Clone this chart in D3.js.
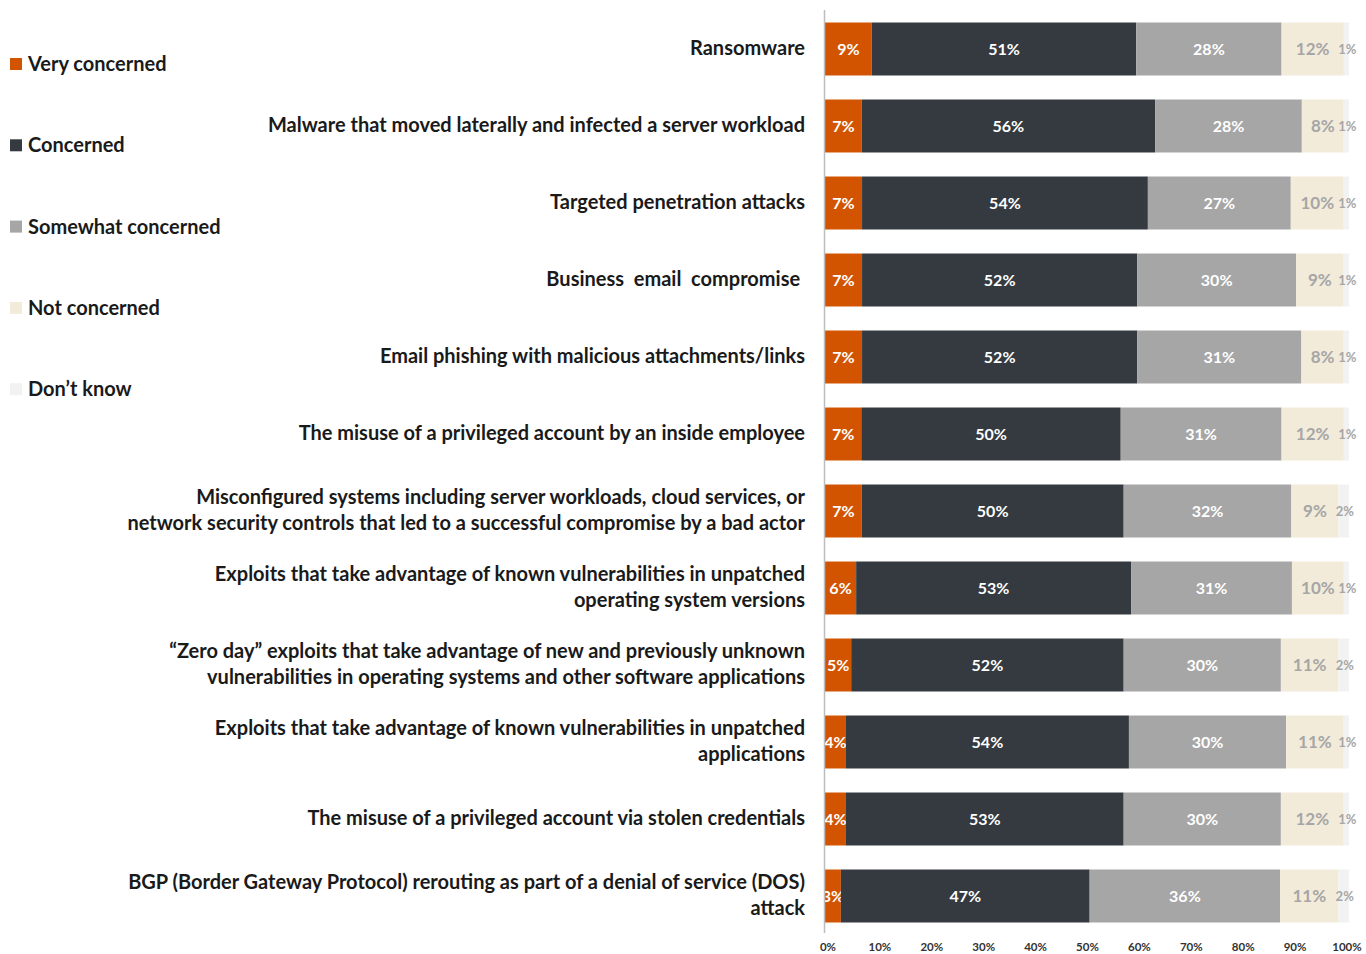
<!DOCTYPE html>
<html><head><meta charset="utf-8">
<script src="https://cdn.jsdelivr.net/npm/d3@7"></script>
<style>
body{margin:0;background:#fff;}
svg text{font-family:"Lato","Open Sans",sans-serif;}
</style></head>
<body><svg id="c" width="1366" height="954"></svg>
<script>
const categories = [
  ["Ransomware"],
  ["Malware that moved laterally and infected a server workload"],
  ["Targeted penetration attacks"],
  ["Business  email  compromise "],
  ["Email phishing with malicious attachments/links"],
  ["The misuse of a privileged account by an inside employee"],
  ["Misconfigured systems including server workloads, cloud services, or","network security controls that led to a successful compromise by a bad actor"],
  ["Exploits that take advantage of known vulnerabilities in unpatched","operating system versions"],
  ["\u201cZero day\u201d exploits that take advantage of new and previously unknown","vulnerabilities in operating systems and other software applications"],
  ["Exploits that take advantage of known vulnerabilities in unpatched","applications"],
  ["The misuse of a privileged account via stolen credentials"],
  ["BGP (Border Gateway Protocol) rerouting as part of a denial of service (DOS)","attack"]
];
const seriesNames = ["Very concerned","Concerned","Somewhat concerned","Not concerned","Don\u2019t know"];
const veryConcerned      = [9,7,7,7,7,7,7,6,5,4,4,3];
const concerned          = [51,56,54,52,52,50,50,53,52,54,53,47];
const somewhatConcerned  = [28,28,27,30,31,31,32,31,30,30,30,36];
const notConcerned       = [12,8,10,9,8,12,9,10,11,11,12,11];
const dontKnow           = [1,1,1,1,1,1,2,1,2,1,1,2];
const tickLabels = ["0%","10%","20%","30%","40%","50%","60%","70%","80%","90%","100%"];

const colors = ["#D35400","#343A40","#A6A6A6","#F2EBDA","#F2F2F2"];
const labelColors = ["#ffffff","#ffffff","#ffffff","#A6A6A6","#A6A6A6"];
const labelSizes = [16,16,16,17,13];

const keys = ["v","c","s","n","d"];
const rows = categories.map((c,i)=>({idx:i, v:veryConcerned[i], c:concerned[i], s:somewhatConcerned[i], n:notConcerned[i], d:dontKnow[i]}));
const stack = d3.stack().keys(keys).offset(d3.stackOffsetExpand)(rows);

const svg = d3.select("#c");
const x = d3.scaleLinear().domain([0,1]).range([825,1349]);
const y = d3.scaleBand().domain(d3.range(categories.length)).range([10.5,934.5]).paddingInner(0.312).paddingOuter(0.156);

// bars
stack.forEach((layer,k)=>{
  const g = svg.append("g");
  g.selectAll("rect").data(layer).enter().append("rect")
    .attr("x",d=>x(d[0])).attr("y",d=>y(d.data.idx))
    .attr("width",d=>x(d[1])-x(d[0])).attr("height",y.bandwidth())
    .attr("fill",colors[k]);
  g.selectAll("text").data(layer).enter().append("text")
    .attr("x",d=>(x(d[0])+x(d[1]))/2 + (k===4?1:0))
    .attr("y",d=>y(d.data.idx)+y.bandwidth()/2)
    .attr("dy","0.36em")
    .attr("text-anchor","middle")
    .attr("fill",labelColors[k])
    .attr("font-size",labelSizes[k])
    .attr("font-weight",700)
    .text(d=>d.data[keys[k]]+"%");
});

// axis line
svg.append("line").attr("x1",824.5).attr("x2",824.5).attr("y1",10).attr("y2",933)
  .attr("stroke","#BDBDBD").attr("stroke-width",1.5);

// x ticks
const xt = d3.scaleLinear().domain([0,100]).range([828,1347]);
svg.append("g").selectAll("text").data(tickLabels).enter().append("text")
  .attr("x",(d,i)=>xt(i*10)).attr("y",951)
  .attr("text-anchor","middle").attr("font-size",11.5).attr("font-weight",700)
  .attr("fill","#333").text(d=>d);

// category labels
const lab = svg.append("g").selectAll("text").data(categories).enter().append("text")
  .attr("text-anchor","end").attr("font-size",20).attr("font-weight",700)
  .attr("fill","#1a1a1a").style("white-space","pre")
  .attr("transform",(d,i)=>`translate(805,${y(i)+y.bandwidth()/2})`);
lab.each(function(d){
  const t = d3.select(this);
  const n = d.length;
  d.forEach((line,j)=>{
    t.append("tspan").attr("x",0).attr("y",(j-(n-1)/2)*26).attr("dy","0.3em").text(line);
  });
});

// legend
const lg = svg.append("g").selectAll("g").data(seriesNames).enter().append("g")
  .attr("transform",(d,i)=>`translate(10,${64+i*81.3})`);
lg.append("rect").attr("x",0).attr("y",-6).attr("width",12).attr("height",12).attr("fill",(d,i)=>colors[i]);
lg.append("text").attr("x",18).attr("dy","0.35em").attr("font-size",20).attr("font-weight",700)
  .attr("fill","#1a1a1a").text(d=>d);
</script></body></html>
